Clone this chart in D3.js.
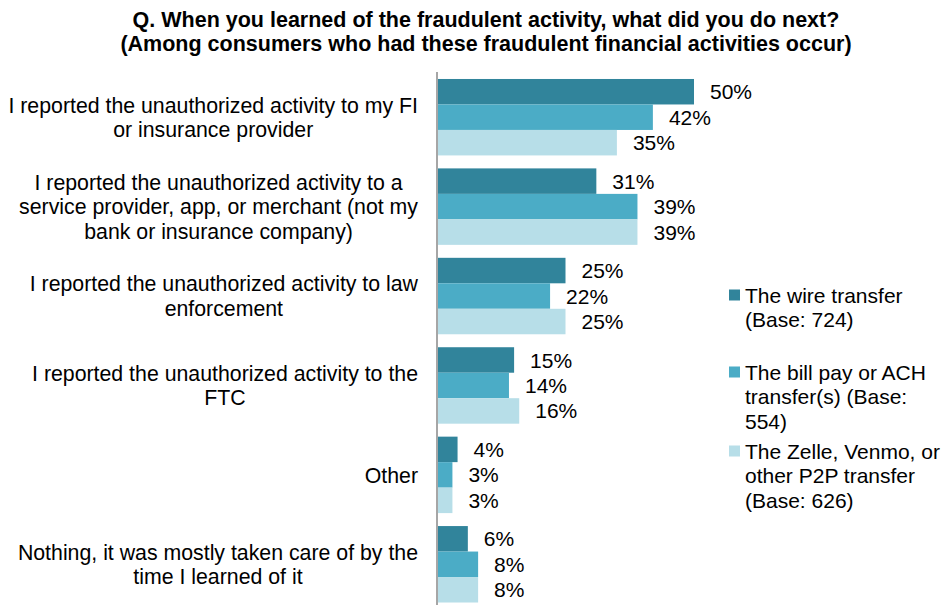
<!DOCTYPE html>
<html>
<head>
<meta charset="utf-8">
<script src="https://cdn.jsdelivr.net/npm/d3@7"></script>
<style>
  html, body { margin: 0; padding: 0; background: #fff; }
  svg { display: block; font-family: "Liberation Sans", Arial, sans-serif; }
</style>
</head>
<body>
<svg id="chart" width="946" height="605"></svg>
<script>
// Survey responses (percent of respondents) by fraud type
const categories = [
  ["I reported the unauthorized activity to my FI", "or insurance provider"],
  ["I reported the unauthorized activity to a", "service provider, app, or merchant (not my", "bank or insurance company)"],
  ["I reported the unauthorized activity to law", "enforcement"],
  ["I reported the unauthorized activity to the", "FTC"],
  ["Other"],
  ["Nothing, it was mostly taken care of by the", "time I learned of it"]
];
const seriesNames = [
  ["The wire transfer", "(Base: 724)"],
  ["The bill pay or ACH", "transfer(s) (Base:", "554)"],
  ["The Zelle, Venmo, or", "other P2P transfer", "(Base: 626)"]
];
const wireTransfer = [50, 31, 25, 15, 4, 6];
const billPayAch  = [42, 39, 22, 14, 3, 8];
const p2pTransfer = [35, 39, 25, 16, 3, 8];
const seriesValues = [wireTransfer, billPayAch, p2pTransfer];
const colors = ["#31849B", "#4BACC6", "#B7DEE8"];
const titleLines = [
  "Q. When you learned of the fraudulent activity, what did you do next?",
  "(Among consumers who had these fraudulent financial activities occur)"
];

const svg = d3.select("#chart");
const axisX = 437;

const x = d3.scaleLinear().domain([0, 100]).range([axisX, axisX + 514]);
const y0 = d3.scaleBand().domain(d3.range(categories.length))
  .range([72.5, 609]).paddingInner(0.145).paddingOuter(0.0725);
const y1 = d3.scaleBand().domain(d3.range(seriesValues.length))
  .range([0, y0.bandwidth()]);

// Title
svg.append("g").selectAll("text").data(titleLines).join("text")
  .attr("x", 486).attr("y", (d, i) => 27 + i * 23.5)
  .attr("text-anchor", "middle")
  .attr("font-weight", "bold").attr("font-size", 21.5)
  .attr("fill", "#000")
  .text(d => d);

// Bars
const groups = svg.append("g").selectAll("g")
  .data(categories.map((c, i) => i)).join("g")
  .attr("transform", i => `translate(0,${y0(i)})`);

groups.selectAll("rect")
  .data(i => seriesValues.map((s, k) => ({ k, v: s[i] })))
  .join("rect")
  .attr("x", x(0))
  .attr("y", d => y1(d.k))
  .attr("width", d => x(d.v) - x(0))
  .attr("height", y1.bandwidth())
  .attr("fill", d => colors[d.k]);

groups.selectAll("text.val")
  .data(i => seriesValues.map((s, k) => ({ k, v: s[i] })))
  .join("text").attr("class", "val")
  .attr("x", d => x(d.v) + 16)
  .attr("y", d => y1(d.k) + y1.bandwidth() / 2)
  .attr("dy", "0.36em")
  .attr("font-size", 21).attr("fill", "#000")
  .text(d => d.v + "%");

// Category axis line
svg.append("line")
  .attr("x1", axisX).attr("x2", axisX)
  .attr("y1", 72).attr("y2", 605)
  .attr("stroke", "#A6A6A6").attr("stroke-width", 2);

// Category labels: lines centered within a block right-aligned to the axis
const lineH = 24.5;
const labelRight = 418;
categories.forEach((lines, i) => {
  const g = svg.append("g");
  const texts = g.selectAll("text").data(lines).join("text")
    .attr("font-size", 21.3).attr("fill", "#000")
    .attr("text-anchor", "middle")
    .text(d => d);
  let maxW = 0;
  texts.each(function () { maxW = Math.max(maxW, this.getComputedTextLength()); });
  const cy = y0(i) + y0.bandwidth() / 2;
  const top = cy - (lines.length - 1) * lineH / 2;
  texts.attr("x", labelRight - maxW / 2)
    .attr("y", (d, j) => top + j * lineH)
    .attr("dy", "0.36em");
});

// Legend
const legendTops = [295, 372, 451];
seriesNames.forEach((lines, k) => {
  const g = svg.append("g");
  g.append("rect")
    .attr("x", 729).attr("y", legendTops[k] - 5.5)
    .attr("width", 11).attr("height", 11)
    .attr("fill", colors[k]);
  g.selectAll("text").data(lines).join("text")
    .attr("x", 745)
    .attr("y", (d, j) => legendTops[k] + j * lineH)
    .attr("dy", "0.36em")
    .attr("font-size", 21).attr("fill", "#000")
    .text(d => d);
});
</script>
</body>
</html>
